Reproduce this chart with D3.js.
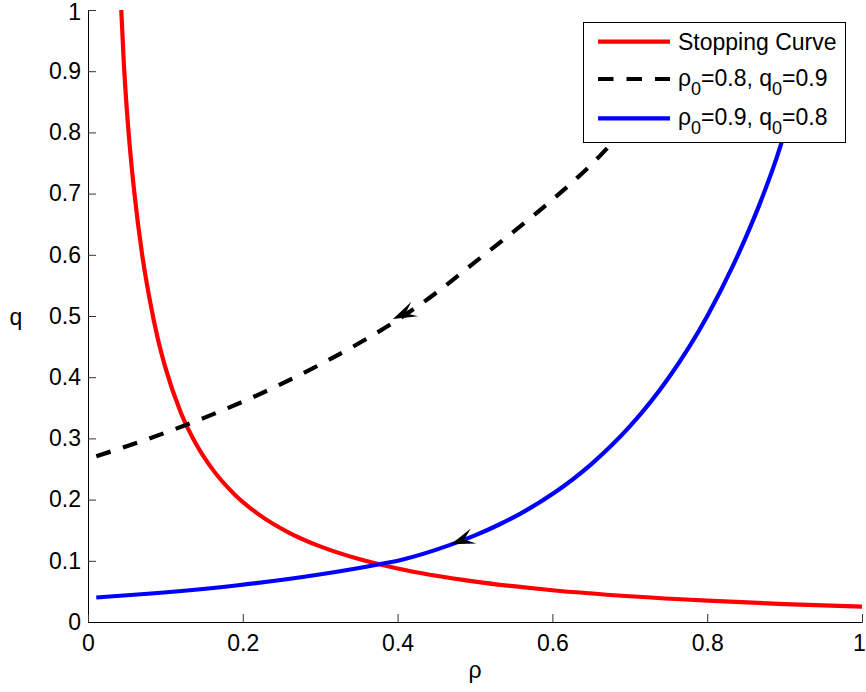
<!DOCTYPE html>
<html><head><meta charset="utf-8">
<script src="https://cdn.jsdelivr.net/npm/d3@7"></script>
<style>
body{margin:0;background:#fff}
text{font-family:"Liberation Sans",Arial,Helvetica,sans-serif}
</style>
</head><body>
<svg id="chart" width="866" height="692"></svg>
<script>
// ---------- data ----------
const xTickValues = [0, 0.2, 0.4, 0.6, 0.8, 1];
const yTickValues = [0, 0.1, 0.2, 0.3, 0.4, 0.5, 0.6, 0.7, 0.8, 0.9, 1];

const stopRho = [0.043, 0.046, 0.05, 0.055, 0.06, 0.07, 0.08, 0.09, 0.10, 0.12, 0.14, 0.16, 0.19, 0.22, 0.26, 0.30, 0.35, 0.40, 0.50, 0.60, 0.70, 0.80, 0.90, 1.0];
const stopQ   = [1.0, 0.92, 0.84, 0.763, 0.70, 0.600, 0.525, 0.464, 0.4156, 0.342, 0.290, 0.251, 0.2077, 0.1763, 0.1458, 0.1235, 0.1028, 0.0874, 0.066, 0.0519, 0.0421, 0.0348, 0.0293, 0.025];

const blackRho = [0.0107, 0.05, 0.10, 0.15, 0.20, 0.25, 0.30, 0.35, 0.40, 0.45, 0.50, 0.55, 0.60, 0.65, 0.70, 0.75, 0.80];
const blackQ   = [0.271, 0.287, 0.3093, 0.3336, 0.360, 0.389, 0.4208, 0.4555, 0.4936, 0.538, 0.588, 0.638, 0.690, 0.747, 0.812, 0.86, 0.90];

const blueRho = [0.0107, 0.086, 0.194, 0.301, 0.375, 0.403, 0.468, 0.50, 0.532, 0.56, 0.60, 0.65, 0.70, 0.75, 0.80, 0.833, 0.85, 0.868, 0.894, 0.90];
const blueQ   = [0.040, 0.047, 0.060, 0.078, 0.094, 0.101, 0.126, 0.1415, 0.1597, 0.178, 0.209, 0.2576, 0.3195, 0.3987, 0.4997, 0.5814, 0.6289, 0.6836, 0.775, 0.80];

const arrowRho = [0.394, 0.469];
const arrowQ   = [0.495, 0.127];

const legendLabels = ["Stopping Curve", ["0.8", "0.9"], ["0.9", "0.8"]];
const xLabel = "ρ";
const yLabel = "q";

// ---------- layout ----------
const svg = d3.select("#chart");
const mLeft = 88, mRight = 862, mTop = 10, mBottom = 622;
const FS = 23;

const x = d3.scaleLinear().domain([0, 1]).range([mLeft, mRight]);
const y = d3.scaleLinear().domain([0, 1]).range([mBottom, mTop]);

svg.append("defs").append("clipPath").attr("id", "clip")
  .append("rect").attr("x", mLeft).attr("y", mTop - 2).attr("width", mRight - mLeft).attr("height", mBottom - mTop + 2);

const line = d3.line().x(d => x(d[0])).y(d => y(d[1])).curve(d3.curveMonotoneX);
const zip = (a, b) => a.map((v, i) => [v, b[i]]);

const plot = svg.append("g").attr("clip-path", "url(#clip)");

plot.append("path").datum(zip(stopRho, stopQ))
  .attr("d", line).attr("fill", "none").attr("stroke", "#ff0000").attr("stroke-width", 4.2);
plot.append("path").datum(zip(blackRho, blackQ))
  .attr("d", line).attr("fill", "none").attr("stroke", "#000").attr("stroke-width", 4.2)
  .attr("stroke-dasharray", "15,13");
plot.append("path").datum(zip(blueRho, blueQ))
  .attr("d", line).attr("fill", "none").attr("stroke", "#0000ff").attr("stroke-width", 4.2);

// arrowheads
const arrowAngle = [-25, -20];
const L = 24, W = 8, N = 14;
arrowRho.forEach((r, i) => {
  svg.append("path")
    .attr("transform", `translate(${x(r)},${y(arrowQ[i])}) rotate(${arrowAngle[i]})`)
    .attr("d", `M0,0 L${L},${-W} L${N},0 L${L},${W} Z`)
    .attr("fill", "#000");
});

// axes
const yAxis = d3.axisLeft(y).tickValues(yTickValues).tickFormat(d3.format("~g"))
  .tickSizeInner(-8).tickSizeOuter(0).tickPadding(7);
const gy = svg.append("g").attr("transform", `translate(${mLeft},0)`).call(yAxis);
const xAxis = d3.axisBottom(x).tickValues(xTickValues).tickFormat(d3.format("~g"))
  .tickSizeInner(-8).tickSizeOuter(0).tickPadding(13);
const gx = svg.append("g").attr("transform", `translate(0,${mBottom})`).call(xAxis);

[gx, gy].forEach(g => {
  g.attr("font-family", null).attr("font-size", null);
  g.selectAll("text").style("font-size", FS + "px").attr("fill", "#000");
  g.selectAll(".tick line").attr("stroke", "#333");
  g.select(".domain").attr("stroke", "#000");
});
// keep the end labels inside the picture
gy.selectAll(".tick text").filter(d => d === 1).attr("dy", "0.42em");
gx.selectAll(".tick text").filter(d => d === 1).attr("dx", -3);

// axis labels
svg.append("text").attr("x", (mLeft + mRight) / 2).attr("y", 678).attr("text-anchor", "middle")
  .style("font-size", FS + "px").text(xLabel);
svg.append("text").attr("x", 16).attr("y", 325).attr("text-anchor", "middle")
  .style("font-size", FS + "px").text(yLabel);

// legend
const lg = svg.append("g");
lg.append("rect").attr("x", 583.5).attr("y", 22.5).attr("width", 262).attr("height", 120)
  .attr("fill", "#fff").attr("stroke", "#000").attr("stroke-width", 1);
const rowY = [41.7, 79, 118.3];
const rowStroke = ["#ff0000", "#000", "#0000ff"];
rowY.forEach((ry, i) => {
  const l = lg.append("line").attr("x1", 598).attr("x2", 670).attr("y1", ry).attr("y2", ry)
    .attr("stroke", rowStroke[i]).attr("stroke-width", 4.2);
  if (i === 1) l.attr("stroke-dasharray", "15.5,13");
});
lg.append("text").attr("x", 678).attr("y", 50).style("font-size", FS + "px").text(legendLabels[0]);
function subText(yb, a, b) {
  const t = lg.append("text").attr("x", 678).attr("y", yb).style("font-size", FS + "px");
  t.append("tspan").text("ρ");
  t.append("tspan").attr("dy", 9).style("font-size", "18px").text("0");
  t.append("tspan").attr("dy", -9).text("=" + a + ", q");
  t.append("tspan").attr("dy", 9).style("font-size", "18px").text("0");
  t.append("tspan").attr("dy", -9).text("=" + b);
}
subText(86, legendLabels[1][0], legendLabels[1][1]);
subText(124.5, legendLabels[2][0], legendLabels[2][1]);
</script>
</body></html>
